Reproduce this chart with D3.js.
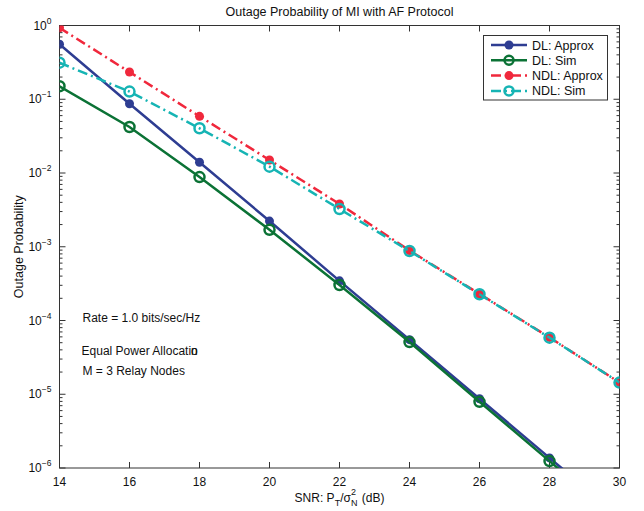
<!DOCTYPE html>
<html><head><meta charset="utf-8">
<script src="https://cdn.jsdelivr.net/npm/d3@7"></script>
<style>
body{margin:0;background:#fff;}
svg{display:block;font-family:"Liberation Sans",Arial,Helvetica,sans-serif;}
</style></head>
<body>
<svg id="chart" width="644" height="511"></svg>
<script>
// ---- data ----
const snr = [14, 16, 18, 20, 22, 24, 26, 28, 30];
const dlApprox  = [0.556, 0.087, 0.0140, 0.00223, 3.45e-4, 5.5e-5, 8.7e-6, 1.37e-6, 2.2e-7];
const dlSim     = [0.150, 0.042, 0.0088, 0.00170, 3.03e-4, 5.1e-5, 7.9e-6, 1.24e-6, 2.0e-7];
const ndlApprox = [0.93, 0.234, 0.0587, 0.0150, 0.0038, 8.9e-4, 2.29e-4, 5.9e-5, 1.44e-5];
const ndlSim    = [0.313, 0.127, 0.0404, 0.0122, 0.00325, 8.75e-4, 2.27e-4, 5.85e-5, 1.44e-5];
const seriesNames = ["DL: Approx", "DL: Sim", "NDL: Approx", "NDL: Sim"];
const xTicks = [14, 16, 18, 20, 22, 24, 26, 28, 30];
const yExponents = [0, -1, -2, -3, -4, -5, -6];
const notes = ["Rate = 1.0 bits/sec/Hz", "Equal Power Allocation", "M = 3 Relay Nodes"];

const series = [
  {name: seriesNames[0], values: dlApprox,  color: "#2e3d92", dash: null,        filled: true},
  {name: seriesNames[1], values: dlSim,     color: "#0b7235", dash: null,        filled: false},
  {name: seriesNames[2], values: ndlApprox, color: "#f0283c", dash: "10,4,2,4",  filled: true},
  {name: seriesNames[3], values: ndlSim,    color: "#16b4b4", dash: "10,4,2,4",  filled: false}
];

const svg = d3.select("#chart");
const L = 59.5, R = 619.5, T = 25.5, B = 468;
const x = d3.scaleLinear().domain([14, 30]).range([L, R]);
const y = d3.scaleLog().domain([1e-6, 1]).range([B, T]);
const axisColor = "#333";

svg.append("defs").append("clipPath").attr("id", "clip")
  .append("rect").attr("x", L).attr("y", T).attr("width", R - L).attr("height", B - T);

// plot frame
svg.append("rect").attr("x", L).attr("y", T).attr("width", R - L).attr("height", B - T)
  .attr("fill", "#fff").attr("stroke", axisColor).attr("stroke-width", 1);

// x ticks (bottom & top, inward)
const g = svg.append("g");
xTicks.forEach(t => {
  const px = x(t);
  g.append("line").attr("x1", px).attr("x2", px).attr("y1", B).attr("y2", B - 6).attr("stroke", axisColor);
  g.append("line").attr("x1", px).attr("x2", px).attr("y1", T).attr("y2", T + 6).attr("stroke", axisColor);
  g.append("text").attr("x", px).attr("y", 486).attr("text-anchor", "middle")
    .attr("font-size", 12).attr("fill", "#111").text(t);
});

// y ticks (major + minor, left & right, inward)
yExponents.forEach(e => {
  const py = y(Math.pow(10, e));
  g.append("line").attr("x1", L).attr("x2", L + 6).attr("y1", py).attr("y2", py).attr("stroke", axisColor);
  g.append("line").attr("x1", R).attr("x2", R - 6).attr("y1", py).attr("y2", py).attr("stroke", axisColor);
  const tx = g.append("text").attr("x", L - 8).attr("y", py + 4).attr("text-anchor", "end")
    .attr("font-size", 12).attr("fill", "#111");
  tx.append("tspan").text("10");
  tx.append("tspan").attr("dy", -6).attr("font-size", 8.5).text(e === 0 ? "0" : "\u2212" + (-e));
  if (e > -6) {
    for (let m = 2; m <= 9; m++) {
      const v = m * Math.pow(10, e - 1);
      const pm = y(v);
      g.append("line").attr("x1", L).attr("x2", L + 3).attr("y1", pm).attr("y2", pm).attr("stroke", axisColor);
      g.append("line").attr("x1", R).attr("x2", R - 3).attr("y1", pm).attr("y2", pm).attr("stroke", axisColor);
    }
  }
});

// lines
const line = d3.line().x((d, i) => x(snr[i])).y(d => y(d));
const plot = svg.append("g").attr("clip-path", "url(#clip)");
series.forEach(s => {
  plot.append("path").datum(s.values).attr("d", line)
    .attr("fill", "none").attr("stroke", s.color).attr("stroke-width", 2.5)
    .attr("stroke-dasharray", s.dash);
  plot.selectAll(null).data(s.values).enter().append("circle")
    .attr("cx", (d, i) => x(snr[i])).attr("cy", d => y(d))
    .attr("r", s.filled ? 4.5 : 5)
    .attr("fill", s.filled ? s.color : "none")
    .attr("stroke", s.color).attr("stroke-width", s.filled ? 0 : 2.5);
});

// title
svg.append("text").attr("x", (L + R) / 2).attr("y", 16).attr("text-anchor", "middle")
  .attr("font-size", 12.5).attr("fill", "#111").text("Outage Probability of MI with AF Protocol");

// y label
svg.append("text").attr("transform", `translate(23,${(T + B) / 2}) rotate(-90)`)
  .attr("text-anchor", "middle").attr("font-size", 12.5).attr("fill", "#111").text("Outage Probability");

// x label
const xl = svg.append("text").attr("x", 0).attr("y", 502).attr("font-size", 12).attr("fill", "#111");
xl.append("tspan").text("SNR: P");
xl.append("tspan").attr("dy", 4).attr("font-size", 9).text("T");
xl.append("tspan").attr("dy", -4).text("/\u03c3");
const nSub = xl.append("tspan").attr("dy", 4).attr("font-size", 9).text("N");
const nW = nSub.node().getComputedTextLength();
const sup2 = xl.append("tspan").attr("dx", -nW).attr("dy", -11).attr("font-size", 9).text("2");
const s2W = sup2.node().getComputedTextLength();
xl.append("tspan").attr("dx", Math.max(0, nW - s2W) + 1).attr("dy", 7).text(" (dB)");
const xlW = xl.node().getBBox().width;
xl.attr("x", (L + R) / 2 - xlW / 2);

// notes
svg.append("text").attr("x", 82.5).attr("y", 321.5).attr("font-size", 12).attr("fill", "#111").text(notes[0]);
// in the reference the final "n" is printed on top of the final "o": per-glyph dx shift
const eq = svg.append("text").attr("x", 81.5).attr("y", 354.5).attr("font-size", 12).attr("fill", "#111").text(notes[1]);
const oW = eq.node().getSubStringLength(notes[1].length - 2, 1);
const dxList = notes[1].split("").map((c, i) => i === notes[1].length - 1 ? -oW : 0);
eq.attr("dx", dxList.join(" "));
svg.append("text").attr("x", 82.5).attr("y", 374.5).attr("font-size", 12).attr("fill", "#111").text(notes[2]);

// legend
const lg = svg.append("g");
lg.append("rect").attr("x", 483.5).attr("y", 35.5).attr("width", 124).attr("height", 64.5)
  .attr("fill", "#fff").attr("stroke", axisColor).attr("stroke-width", 1);
series.forEach((s, i) => {
  const ly = 45 + i * 15.3;
  lg.append("line").attr("x1", 491).attr("x2", 527).attr("y1", ly).attr("y2", ly)
    .attr("stroke", s.color).attr("stroke-width", 2.5).attr("stroke-dasharray", s.dash);
  lg.append("circle").attr("cx", 509).attr("cy", ly).attr("r", 4.5)
    .attr("fill", s.filled ? s.color : "none").attr("stroke", s.color).attr("stroke-width", s.filled ? 0 : 2.5);
  lg.append("text").attr("x", 532).attr("y", ly + 4.5).attr("font-size", 12.5).attr("fill", "#111").text(s.name);
});
</script>
</body></html>
